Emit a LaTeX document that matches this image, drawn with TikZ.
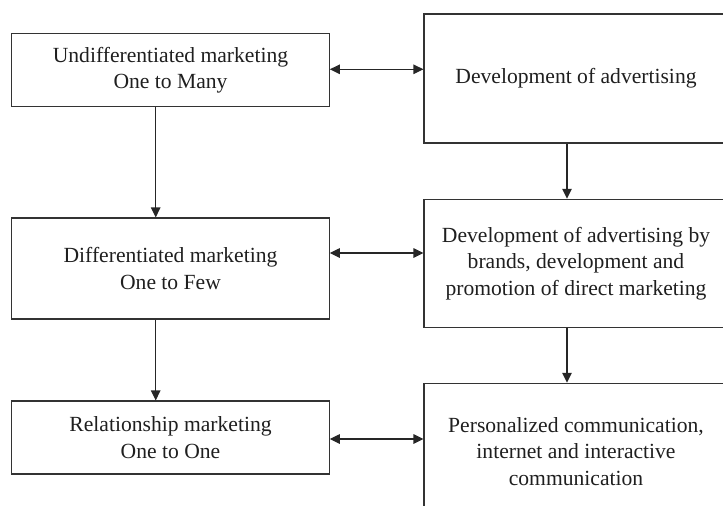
\documentclass[tikz,border=0pt]{standalone}
\usepackage{fontspec}
\setmainfont{Liberation Serif}
\usetikzlibrary{arrows.meta}
\begin{document}
\begin{tikzpicture}[x=1pt, y=-1pt,
  box/.style={draw=black!80, line width=1.1pt, align=center, inner sep=0pt,
    text=black!88, font=\fontsize{21.6}{26.5}\selectfont},
  link/.style={draw=black!85, line width=1.1pt, -{Triangle[length=10pt,width=9.5pt]}},
  both/.style={link, {Triangle[length=10pt,width=9.5pt]}-{Triangle[length=10pt,width=9.5pt]}}]
% Set the page, the right column runs off its edge
\path[use as bounding box, clip] (0,0) rectangle (723,506);

% Marketing column
\node[box, minimum width=317.5pt, minimum height=73.5pt] (undiff) at (170.5, 70) {Undifferentiated marketing\\One to Many};
\node[box, minimum width=317.5pt, minimum height=101pt] (diff) at (170.5, 268.5) {Differentiated marketing\\One to Few};
\node[box, minimum width=317.5pt, minimum height=73pt] (relation) at (170.5, 437.5) {Relationship marketing\\One to One};

% Communication column
\node[box, minimum width=304pt, minimum height=129pt] (advert) at (576, 78.5) {Development of advertising};
\node[box, minimum width=304pt, minimum height=128pt] (brands) at (576, 263.3) {Development of advertising by\\brands, development and\\promotion of direct marketing};
\node[box, minimum width=304pt, minimum height=136pt] (personal) at (576, 451.3) {Personalized communication,\\internet and interactive\\communication};

% Arrows down
\draw[link] ([xshift=-14.8pt]undiff.south) -- ([xshift=-14.8pt]undiff.south |- diff.north);
\draw[link] ([xshift=-14.8pt]diff.south) -- ([xshift=-14.8pt]diff.south |- relation.north);
\draw[link] ([xshift=-9pt]advert.south) -- ([xshift=-9pt]advert.south |- brands.north);
\draw[link] ([xshift=-9pt]brands.south) -- ([xshift=-9pt]brands.south |- personal.north);

% Arrows across
\draw[both] ([yshift=0.7pt]undiff.east) -- ([yshift=0.7pt]undiff.east -| advert.west);
\draw[both] ([yshift=15.5pt]diff.east) -- ([yshift=15.5pt]diff.east -| brands.west);
\draw[both] ([yshift=-1.5pt]relation.east) -- ([yshift=-1.5pt]relation.east -| personal.west);
\end{tikzpicture}
\end{document}
